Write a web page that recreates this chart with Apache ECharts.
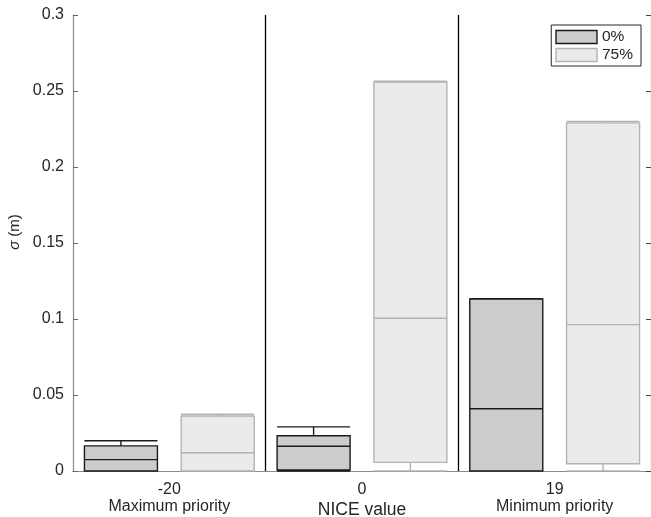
<!DOCTYPE html>
<html>
<head>
<meta charset="utf-8">
<script src="https://cdn.jsdelivr.net/npm/echarts@6/dist/echarts.min.js"></script>
<style>html,body{margin:0;padding:0;background:#fff;}#c{width:651px;height:517px;}</style>
</head>
<body>
<div id="c"></div>
<script>
// ---- data ----
const categories = ['-20', '0', '19'];
const groupNames = ['Maximum priority', '', 'Minimum priority'];
const seriesNames = ['0%', '75%'];
// [min, Q1, median, Q3, max]
const box0 = [
  [0, 0, 0.0075, 0.0165, 0.0199],
  [0, 0.0007, 0.0163, 0.0232, 0.0290],
  [0, 0, 0.0410, 0.1132, 0.1133]
];
const box75 = [
  [0, 0, 0.0120, 0.0362, 0.0373],
  [0, 0.0057, 0.1005, 0.2559, 0.2564],
  [0, 0.0048, 0.0963, 0.2290, 0.2300]
];
const yTicks = { min: 0, max: 0.3, step: 0.05 };

// ---- chart ----
const FONT = '"Liberation Sans", Arial, sans-serif';
const chart = echarts.init(document.getElementById('c'), null, { renderer: 'canvas' });
const plotW = 578, plotL = 73, shift = 48.4;
const style0 = { color: '#cccccc', borderColor: '#1a1a1a', borderWidth: 1.4 };
const style75 = { color: '#ebebeb', borderColor: '#b3b3b3', borderWidth: 1.4 };

function hiddenX(gi) {
  return { type: 'category', gridIndex: gi, data: categories, show: false, boundaryGap: true };
}
function hiddenY(gi) {
  return { type: 'value', gridIndex: gi, min: yTicks.min, max: yTicks.max, interval: yTicks.step, show: false };
}
function grid(left) {
  return { left: left, width: plotW, top: 15, bottom: 46, containLabel: false, outerBoundsMode: 'none' };
}

chart.setOption({
  animation: false,
  backgroundColor: '#fff',
  grid: [grid(plotL), grid(plotL - shift), grid(plotL + shift)],
  legend: {
    data: [
      { name: seriesNames[0], itemStyle: style0 },
      { name: seriesNames[1], itemStyle: style75 }
    ],
    orient: 'vertical',
    right: 10,
    top: 25,
    icon: 'rect',
    itemWidth: 41,
    itemHeight: 13,
    itemGap: 0,
    padding: [3, 8, 2, 4],
    borderColor: '#262626',
    borderWidth: 1,
    backgroundColor: '#fff',
    textStyle: { fontFamily: FONT, fontSize: 15.5, color: '#262626', lineHeight: 18 }
  },
  xAxis: [
    {
      type: 'category', gridIndex: 0, data: categories, position: 'bottom', boundaryGap: true,
      axisLine: { lineStyle: { color: '#8a8a8a', width: 1.2 } },
      axisTick: { inside: true, alignWithLabel: true, length: 5, lineStyle: { color: '#262626' } },
      axisLabel: {
        fontFamily: FONT, fontSize: 16, color: '#262626', margin: 10, lineHeight: 17,
        formatter: (v, i) => groupNames[i] ? v + '\n' + groupNames[i] : v
      },
      splitLine: { show: true, showMinLine: false, showMaxLine: false, lineStyle: { color: '#000', width: 1.3 } },
      name: 'NICE value', nameLocation: 'middle', nameGap: 30, nameMoveOverlap: false,
      nameTextStyle: { fontFamily: FONT, fontSize: 17.5, color: '#262626' }
    },
    {
      type: 'category', gridIndex: 0, data: categories, position: 'top', boundaryGap: true,
      axisLine: { lineStyle: { color: '#8a8a8a', width: 1.2 } },
      axisTick: { inside: true, alignWithLabel: true, length: 5, lineStyle: { color: '#262626' } },
      axisLabel: { show: false }, splitLine: { show: false }
    },
    hiddenX(1), hiddenX(2)
  ],
  yAxis: [
    {
      type: 'value', gridIndex: 0, position: 'left', min: yTicks.min, max: yTicks.max, interval: yTicks.step,
      axisLine: { show: true, lineStyle: { color: '#8a8a8a', width: 1.2 } },
      axisTick: { show: true, inside: true, length: 5, lineStyle: { color: '#666' } },
      axisLabel: { fontFamily: FONT, fontSize: 16, color: '#262626', margin: 9 },
      splitLine: { show: false },
      name: '{i|σ} (m)', nameLocation: 'middle', nameGap: 51, nameRotate: 90, nameMoveOverlap: false,
      nameTextStyle: {
        fontFamily: FONT, fontSize: 15, color: '#262626', padding: [0, 0, 0, 22],
        rich: { i: { fontFamily: FONT, fontSize: 15, fontStyle: 'italic', color: '#262626' } }
      }
    },
    {
      type: 'value', gridIndex: 0, position: 'right', min: yTicks.min, max: yTicks.max, interval: yTicks.step,
      axisLine: { show: true, lineStyle: { color: '#8a8a8a', width: 1.2 } },
      axisTick: { show: true, inside: true, length: 5, lineStyle: { color: '#444' } },
      axisLabel: { show: false }, splitLine: { show: false }
    },
    hiddenY(1), hiddenY(2)
  ],
  series: [
    {
      name: seriesNames[0], type: 'boxplot', xAxisIndex: 2, yAxisIndex: 2,
      data: box0, boxWidth: [73, 73], itemStyle: style0, z: 3
    },
    {
      name: seriesNames[1], type: 'boxplot', xAxisIndex: 3, yAxisIndex: 3,
      data: box75, boxWidth: [73, 73], itemStyle: style75, z: 3
    }
  ]
});
</script>
</body>
</html>
